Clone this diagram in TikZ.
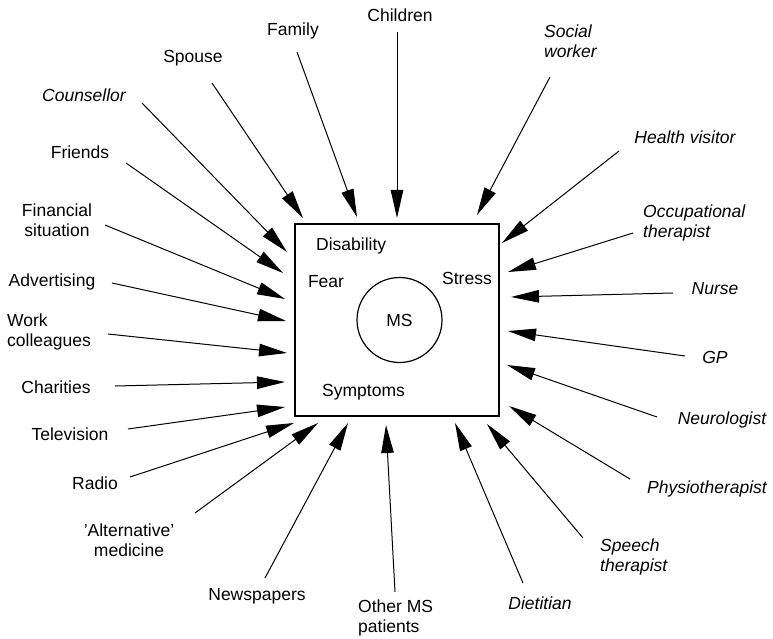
\documentclass[tikz,border=0pt]{standalone}
\usepackage{fontspec}
\setmainfont{Liberation Sans}
\usetikzlibrary{arrows.meta}
\tikzset{
	source/.style={inner sep=0pt, align=left, font=\fontsize{17.5}{20}\selectfont},
	prof/.style={inner sep=0pt, align=left, font=\fontsize{17.5}{20}\selectfont\itshape},
	% words inside the box
	inner/.style={inner sep=0pt, font=\fontsize{17.5}{20}\selectfont},
	patient/.style={draw, rectangle, line width=1.3pt, minimum width=204pt, minimum height=192pt},
	ms/.style={draw, circle, line width=1.2pt, minimum size=85pt, inner sep=0pt, font=\fontsize{17.5}{20}\selectfont},
}

\begin{document}
\begin{tikzpicture}[x=1pt, y=-1pt]
	\useasboundingbox (0,0) rectangle (773,639);
	
	\node (box) [patient] at (397,320) {};
	\node (ms) [ms] at (399.5,320) {MS};
	\node (dis) [inner, anchor=west] at (316,246) {Disability};
	\node (fea) [inner] at (326,282) {Fear};
	\node (str) [inner] at (467,278) {Stress};
	\node (sym) [inner, anchor=west] at (322,392) {Symptoms};
	
	% left and top
	\node (chi) [source] at (400,15) {Children};
	\node (fam) [source] at (293,31) {Family};
	\node (spo) [source] at (193,58) {Spouse};
	\node (cou) [prof] at (84,95) {Counsellor};
	\node (fri) [source] at (80,152) {Friends};
	\node (fin) [source, align=center] at (57,220) {Financial\\situation};
	\node (adv) [source] at (52,282) {Advertising};
	\node (wor) [source, anchor=west] at (7,332) {Work\\colleagues};
	\node (cha) [source] at (56,387) {Charities};
	\node (tel) [source] at (70,434) {Television};
	\node (rad) [source] at (95,483) {Radio};
	\node (alt) [source, align=center] at (129,540) {'Alternative'\\medicine};
	\node (new) [source] at (257,596) {Newspapers};
	\node (oth) [source, anchor=west] at (358,618) {Other MS\\patients};
	
	% right and bottom
	\node (die) [prof] at (540,603) {Dietitian};
	\node (spe) [prof, anchor=west] at (600,557) {Speech\\therapist};
	\node (phy) [prof] at (707,489) {Physiotherapist};
	\node (neu) [prof] at (722,420) {Neurologist};
	\node (gp) [prof] at (715,357) {GP};
	\node (nur) [prof] at (715,289) {Nurse};
	\node (occ) [prof, anchor=west] at (643,223) {Occupational\\therapist};
	\node (hea) [prof] at (685,137) {Health visitor};
	\node (soc) [prof, anchor=west] at (544,41) {Social\\worker};
	
	% line ends
	\coordinate (chi-a) at (397,32);   \coordinate (chi-b) at (397,218);
	\coordinate (fam-a) at (297,52);   \coordinate (fam-b) at (357,217);
	\coordinate (spo-a) at (212,83);   \coordinate (spo-b) at (303,218);
	\coordinate (cou-a) at (142,103);  \coordinate (cou-b) at (287,252);
	\coordinate (fri-a) at (126,163);  \coordinate (fri-b) at (283,273);
	\coordinate (fin-a) at (105,225);  \coordinate (fin-b) at (285,299);
	\coordinate (adv-a) at (112,283);  \coordinate (adv-b) at (286,321);
	\coordinate (wor-a) at (108,334);  \coordinate (wor-b) at (287,353);
	\coordinate (cha-a) at (115,386);  \coordinate (cha-b) at (285,382);
	\coordinate (tel-a) at (128,429);  \coordinate (tel-b) at (285,407);
	\coordinate (rad-a) at (130,477);  \coordinate (rad-b) at (294,423);
	\coordinate (alt-a) at (195,513);  \coordinate (alt-b) at (318,423);
	\coordinate (new-a) at (265,578);  \coordinate (new-b) at (348,423);
	\coordinate (oth-a) at (395,592);  \coordinate (oth-b) at (386,425);
	\coordinate (die-a) at (523,583);  \coordinate (die-b) at (455,423);
	\coordinate (spe-a) at (583,538);  \coordinate (spe-b) at (487,424);
	\coordinate (phy-a) at (630,479);  \coordinate (phy-b) at (509,406);
	\coordinate (neu-a) at (657,417);  \coordinate (neu-b) at (507,365);
	\coordinate (gp-a) at (685,356);   \coordinate (gp-b) at (508,331);
	\coordinate (nur-a) at (673,293);  \coordinate (nur-b) at (511,297);
	\coordinate (occ-a) at (633,233);  \coordinate (occ-b) at (508,272);
	\coordinate (hea-a) at (619,151);  \coordinate (hea-b) at (502,243);
	\coordinate (soc-a) at (550,77);   \coordinate (soc-b) at (477,215);
	
	\begin{scope}[line width=1pt, black, -{Triangle[length=28pt, width=12.5pt]}]
		\draw (chi-a) -- (chi-b);
		\draw (fam-a) -- (fam-b);
		\draw (spo-a) -- (spo-b);
		\draw (cou-a) -- (cou-b);
		\draw (fri-a) -- (fri-b);
		\draw (fin-a) -- (fin-b);
		\draw (adv-a) -- (adv-b);
		\draw (wor-a) -- (wor-b);
		\draw (cha-a) -- (cha-b);
		\draw (tel-a) -- (tel-b);
		\draw (rad-a) -- (rad-b);
		\draw (alt-a) -- (alt-b);
		\draw (new-a) -- (new-b);
		\draw (oth-a) -- (oth-b);
		
		\draw (die-a) -- (die-b);
		\draw (spe-a) -- (spe-b);
		\draw (phy-a) -- (phy-b);
		\draw (neu-a) -- (neu-b);
		\draw (gp-a) -- (gp-b);
		\draw (nur-a) -- (nur-b);
		\draw (occ-a) -- (occ-b);
		\draw (hea-a) -- (hea-b);
		\draw (soc-a) -- (soc-b);
	\end{scope}
	
\end{tikzpicture}
\end{document}
